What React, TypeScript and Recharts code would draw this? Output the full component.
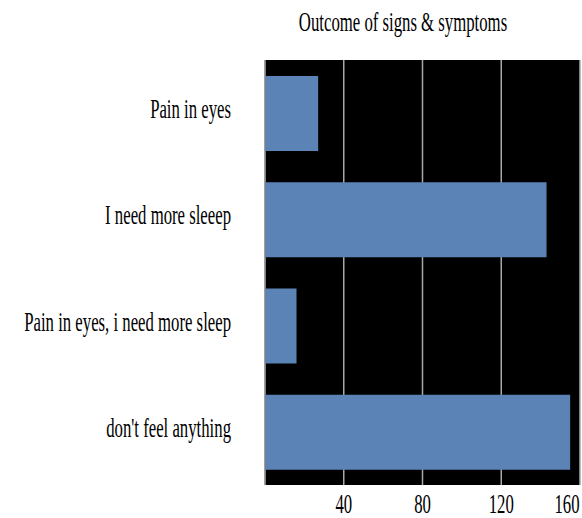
import React from "react";
import { BarChart, Bar, XAxis, YAxis, CartesianGrid } from "recharts";

const categories = [
  "Pain in eyes",
  "I need more sleeep",
  "Pain in eyes, i need more sleep",
  "don't feel anything",
];
const counts = [27, 143, 16, 155];
const xTicks = [40, 80, 120, 160];
const title = "Outcome of signs & symptoms";

const data = categories.map((c, i) => ({ name: c, value: counts[i] }));

const FONT = '"Liberation Serif", "Times New Roman", serif';
const SX = 0.62;
const FS = 27;

const YTick = (props: any) => {
  const { x, y, payload } = props;
  return (
    <text
      transform={`translate(${x - 32},${y + 5}) scale(${SX},1)`}
      textAnchor="end"
      fontFamily={FONT}
      fontSize={FS}
      fill="#000"
    >
      {payload.value}
    </text>
  );
};

const XTick = (props: any) => {
  const { x, y, payload } = props;
  const cx = Math.min(x, 567);
  return (
    <text
      transform={`translate(${cx},${y + 26}) scale(${SX},1)`}
      textAnchor="middle"
      fontFamily={FONT}
      fontSize={FS}
      fill="#000"
    >
      {payload.value}
    </text>
  );
};

export default function App() {
  return (
    <div style={{ position: "absolute", left: 0, top: 0, width: 582, height: 518, background: "#fff" }}>
      <div
        style={{
          position: "absolute",
          left: 403,
          top: 9,
          transform: `translateX(-50%) scaleX(${SX})`,
          fontFamily: FONT,
          fontSize: FS,
          lineHeight: `${FS}px`,
          whiteSpace: "nowrap",
          color: "#000",
        }}
      >
        {title}
      </div>
      <BarChart
        width={582}
        height={518}
        data={data}
        layout="vertical"
        margin={{ top: 60, right: 2, bottom: 0, left: 0 }}
      >
        <CartesianGrid
          horizontal={false}
          vertical={true}
          fill="#000"
          fillOpacity={1}
          stroke="#a8a8a8"
          strokeWidth={1.5}
        />
        <XAxis
          type="number"
          domain={[0, 160]}
          ticks={xTicks}
          height={33}
          axisLine={false}
          tickLine={false}
          tickSize={0}
          tick={<XTick />}
          interval={0}
        />
        <YAxis
          type="category"
          dataKey="name"
          width={265}
          axisLine={{ stroke: "#808080" }}
          tickLine={false}
          tickSize={0}
          tick={<YTick />}
          interval={0}
        />
        <Bar dataKey="value" fill="#5b83b6" barSize={75} isAnimationActive={false} />
      </BarChart>
    </div>
  );
}
